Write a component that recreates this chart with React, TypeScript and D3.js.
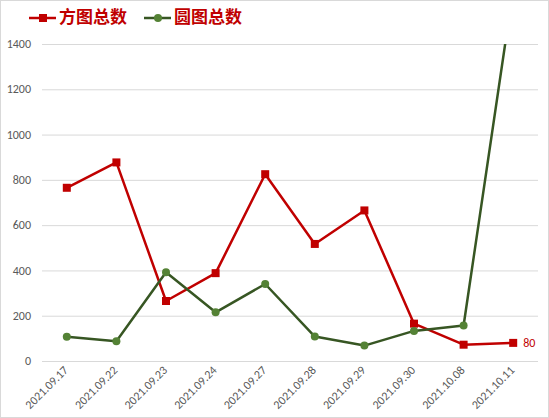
import React, { useEffect, useRef } from 'react';
import * as d3 from 'd3';

// 日期分类
const categories = [
  '2021.09.17', '2021.09.22', '2021.09.23', '2021.09.24', '2021.09.27',
  '2021.09.28', '2021.09.29', '2021.09.30', '2021.10.08', '2021.10.11',
];
const squareTotals = [765, 877, 265, 388, 825, 517, 665, 165, 72, 80];
const circleTotals = [107, 87, 392, 215, 340, 108, 68, 133, 157, 1640];
const yTicks = [0, 200, 400, 600, 800, 1000, 1200, 1400];

const RED = '#C00000';
const GREEN_LINE = '#375623';
const GREEN_DOT = '#548235';

const App: React.FC = () => {
  const svgRef = useRef<SVGSVGElement>(null);

  useEffect(() => {
    document.body.style.margin = '0';
    if (!svgRef.current) return;
    const width = 549;
    const height = 418;
    const svg = d3.select(svgRef.current);
    svg.selectAll('*').remove();

    const left = 42, right = 538, top = 44, bottom = 361;
    const x = d3.scaleBand<string>().domain(categories).range([left, right]);
    const cx = (c: string) => (x(c) as number) + x.bandwidth() / 2;
    const y = d3.scaleLinear().domain([0, 1400]).range([bottom, top]);

    svg.append('rect').attr('x', 0.5).attr('y', 0.5).attr('width', width - 1).attr('height', height - 1)
      .attr('fill', '#fff').attr('stroke', '#d9d9d9');

    svg.append('defs').append('clipPath').attr('id', 'plot-clip')
      .append('rect').attr('x', left - 10).attr('y', top).attr('width', right - left + 20).attr('height', bottom - top + 10);

    // 网格
    svg.append('g').selectAll('line').data(yTicks).enter().append('line')
      .attr('x1', left).attr('x2', right)
      .attr('y1', (d) => y(d) + 0.5).attr('y2', (d) => y(d) + 0.5)
      .attr('stroke', '#d9d9d9').attr('stroke-width', 1);

    const font = 'Carlito, Calibri, "Liberation Sans", Arial, sans-serif';

    svg.append('g').selectAll('text').data(yTicks).enter().append('text')
      .attr('x', 31).attr('y', (d) => y(d)).attr('dy', '0.35em')
      .attr('text-anchor', 'end').attr('font-family', font).attr('font-size', 12)
      .attr('fill', '#595959').text((d) => String(d));

    svg.append('g').selectAll('text').data(categories).enter().append('text')
      .attr('transform', (d) => `translate(${cx(d) + 2},${371}) rotate(-45)`)
      .attr('text-anchor', 'end').attr('font-family', font).attr('font-size', 12)
      .attr('fill', '#595959').text((d) => d);

    const plot = svg.append('g').attr('clip-path', 'url(#plot-clip)');
    const line = d3.line<number>().x((_, i) => cx(categories[i])).y((d) => y(d));

    plot.append('path').datum(squareTotals).attr('d', line)
      .attr('fill', 'none').attr('stroke', RED).attr('stroke-width', 2.5).attr('stroke-linejoin', 'round');
    plot.append('path').datum(circleTotals).attr('d', line)
      .attr('fill', 'none').attr('stroke', GREEN_LINE).attr('stroke-width', 2.5).attr('stroke-linejoin', 'round');

    plot.selectAll('.sq').data(squareTotals).enter().append('rect')
      .attr('x', (_, i) => cx(categories[i]) - 4).attr('y', (d) => y(d) - 4)
      .attr('width', 8).attr('height', 8).attr('fill', RED);
    plot.selectAll('.dot').data(circleTotals.filter((d) => d <= 1400)).enter().append('circle')
      .attr('cx', (_, i) => cx(categories[i])).attr('cy', (d) => y(d)).attr('r', 4)
      .attr('fill', GREEN_DOT);

    // 末点标签
    const last = squareTotals.length - 1;
    svg.append('text')
      .attr('x', cx(categories[last]) + 10).attr('y', y(squareTotals[last])).attr('dy', '0.35em')
      .attr('font-family', font).attr('font-size', 12).attr('fill', RED)
      .text(String(squareTotals[last]));

    // 图例
    const legend = [
      { name: '方图总数', color: RED, shape: 'square', x: 29 },
      { name: '圆图总数', color: GREEN_LINE, shape: 'circle', x: 144 },
    ];
    const lg = svg.append('g');
    legend.forEach((l) => {
      lg.append('line').attr('x1', l.x).attr('x2', l.x + 27).attr('y1', 18).attr('y2', 18)
        .attr('stroke', l.color).attr('stroke-width', 2.5);
      if (l.shape === 'square') {
        lg.append('rect').attr('x', l.x + 10).attr('y', 14).attr('width', 8).attr('height', 8).attr('fill', RED);
      } else {
        lg.append('circle').attr('cx', l.x + 14).attr('cy', 18).attr('r', 4).attr('fill', GREEN_DOT);
      }
      lg.append('text').attr('x', l.x + 30).attr('y', 17).attr('dy', '0.35em')
        .attr('font-family', '"Noto Sans CJK SC", sans-serif').attr('font-size', 17).attr('font-weight', 'bold')
        .attr('fill', RED).text(l.name);
    });
  }, []);

  return <svg ref={svgRef} width={549} height={418} style={{ display: 'block' }} />;
};

export default App;
